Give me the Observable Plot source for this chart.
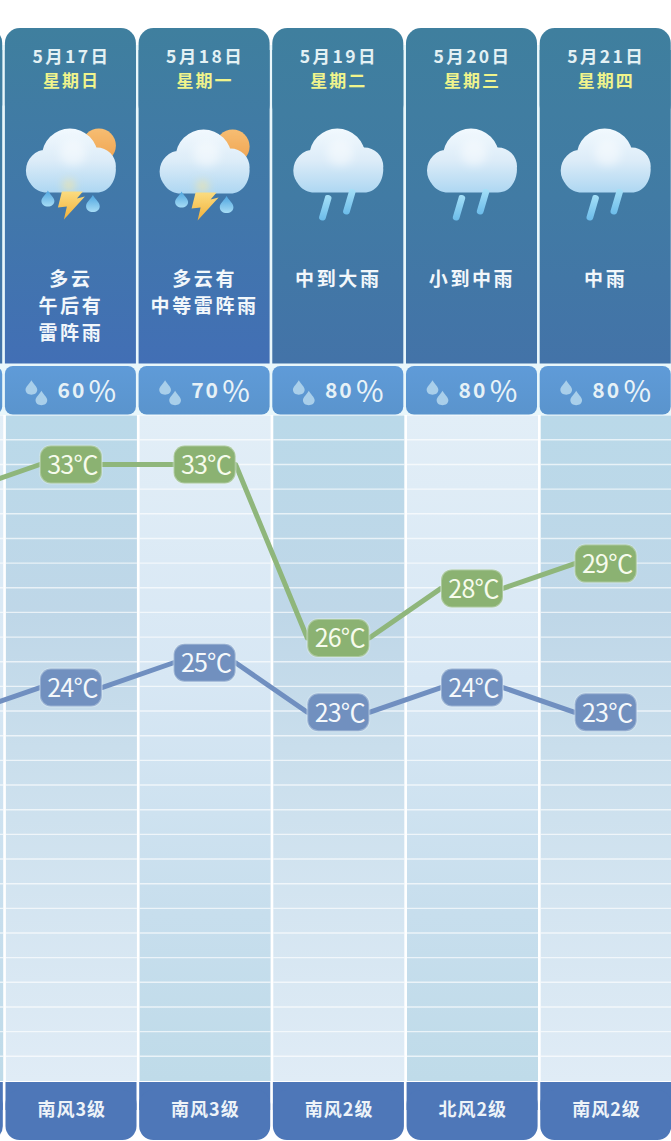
<!DOCTYPE html>
<html><head><meta charset="utf-8">
<style>html,body{margin:0;padding:0;background:#fff}svg{display:block}</style>
<script src="https://cdn.jsdelivr.net/npm/d3@7"></script>
<script src="https://cdn.jsdelivr.net/npm/@observablehq/plot@0.6"></script>
</head><body><div id="chart"></div>
<script>
const columns = [-1, 0, 1, 2, 3, 4];
const dates = ["5月16日", "5月17日", "5月18日", "5月19日", "5月20日", "5月21日"];
const weekdays = ["", "星期日", "星期一", "星期二", "星期三", "星期四"];
const conditions = ["", "多云\n午后有\n雷阵雨", "多云有\n中等雷阵雨", "中到大雨", "小到中雨", "中雨"];
const icons = ["", "storm", "storm", "rain", "rain", "rain"];
const rainChance = [null, 60, 70, 80, 80, 80];
const highs = [32, 33, 33, 26, 28, 29];
const lows = [23, 24, 25, 23, 24, 23];
const winds = ["", "南风3级", "南风3级", "南风2级", "北风2级", "南风2级"];

const days = columns.map((c, i) => ({
  c, date: dates[i], weekday: weekdays[i], condition: conditions[i], icon: icons[i],
  rain: rainChance[i], high: highs[i], low: lows[i], wind: winds[i],
  darkTop: (c + 2) % 2 === 0
}));
const shown = days.filter(d => d.c >= 0);

// layout helpers: the vertical scale is temperature, the horizontal one the day index
const degPx = 24.78;
const colPx = 133.7;
const Y = px => 33 - (px - 464) / degPx;
const PX = px => px / colPx;
const W = 0.49;
const HF = "'Noto Sans CJK SC','Noto Sans',sans-serif";

const attrs = o => ({render(index, scales, values, dims, ctx, next) {
  const g = next(index, scales, values, dims, ctx);
  if (g) for (const k in o) g.setAttribute(k, o[k]);
  return g;
}});

// custom dot symbols, drawn relative to the dot's centre
const sym = draw => ({draw});
const circle = (c, x, y, r) => { c.moveTo(x + r, y); c.arc(x, y, r, 0, 2 * Math.PI); c.closePath(); };
const cloudSym = sym(c => {
  circle(c, -1, -4, 28);
  circle(c, -24, 10, 21);
  circle(c, 26, 6, 19);
  c.moveTo(-24, 0); c.lineTo(26, 0); c.lineTo(45, 8);
  c.bezierCurveTo(45, 22, 37, 32, 26, 32);
  c.lineTo(-24, 32);
  c.bezierCurveTo(-36, 32, -44, 22, -44, 10);
  c.closePath();
});
const bolt = sym(c => {
  c.moveTo(-8, -14); c.lineTo(13, -14); c.lineTo(7, -7); c.lineTo(15, -9);
  c.lineTo(-6, 14); c.lineTo(-3, 1); c.lineTo(-12, 2); c.closePath();
});
const teardrop = s => sym(c => {
  c.moveTo(0, -8 * s);
  c.bezierCurveTo(2 * s, -4 * s, 6.5 * s, -1 * s, 6.5 * s, 2.5 * s);
  c.bezierCurveTo(6.5 * s, 6 * s, 3.5 * s, 8 * s, 0, 8 * s);
  c.bezierCurveTo(-3.5 * s, 8 * s, -6.5 * s, 6 * s, -6.5 * s, 2.5 * s);
  c.bezierCurveTo(-6.5 * s, -1 * s, -2 * s, -4 * s, 0, -8 * s);
  c.closePath();
});
const streak = sym(c => {
  c.moveTo(0, -12);
  c.bezierCurveTo(1, -14, 7, -13, 6.2, -9.5);
  c.lineTo(0.5, 10);
  c.bezierCurveTo(-0.5, 14, -7, 13, -6.2, 9);
  c.closePath();
});
const pill = sym(c => {
  const w = 31, h = 19, r = 11;
  c.moveTo(-w + r, -h); c.lineTo(w - r, -h); c.arcTo(w, -h, w, -h + r, r);
  c.lineTo(w, h - r); c.arcTo(w, h, w - r, h, r); c.lineTo(-w + r, h);
  c.arcTo(-w, h, -w, h - r, r); c.lineTo(-w, -h + r); c.arcTo(-w, -h, -w + r, -h, r);
  c.closePath();
});

const defs = () => {
  const s = d3.create("svg:g");
  const d = s.append("defs");
  const lin = (id, user, stops, y1, y2) => {
    const g = d.append("linearGradient").attr("id", id).attr("x1", 0).attr("x2", 0);
    if (user) g.attr("gradientUnits", "userSpaceOnUse").attr("y1", y1).attr("y2", y2);
    else g.attr("y1", 0).attr("y2", 1);
    stops.forEach(([o, col]) => g.append("stop").attr("offset", o).attr("stop-color", col));
  };
  lin("headStorm", true, [[0, "#3f7f9e"], [0.5, "#4178a9"], [1, "#426fb5"]], 28, 363);
  lin("headRain", true, [[0, "#3f7f9e"], [0.5, "#417ba4"], [1, "#4373a8"]], 28, 363);
  lin("hum", false, [[0, "#5f9bd8"], [1, "#5a94cd"]]);
  lin("panelDark", true, [[0, "#bad9e9"], [0.3, "#bfd7e8"], [0.5, "#c9deec"], [1, "#e0ecf6"]], 415, 1080);
  lin("panelLight", true, [[0, "#e2eef7"], [0.4, "#d7e7f4"], [0.75, "#c7deed"], [1, "#bfdbe9"]], 415, 1080);
  lin("cloud", false, [[0, "#f2f9fe"], [0.5, "#dcecf8"], [1, "#aed7f2"]]);
  lin("sun", false, [[0, "#f6bd72"], [1, "#f0a350"]]);
  lin("boltG", false, [[0, "#fbdc80"], [1, "#f2b13a"]]);
  lin("dropG", false, [[0, "#4fa6e0"], [1, "#a6dcf5"]]);
  lin("streakG", false, [[0, "#a5e0f7"], [1, "#6cbcea"]]);
  const f = d.append("filter").attr("id", "soft").attr("x", "-20%").attr("y", "-20%").attr("width", "140%").attr("height", "140%");
  f.append("feGaussianBlur").attr("stdDeviation", 0.7);
  const f2 = d.append("filter").attr("id", "soft2").attr("x", "-60%").attr("y", "-60%").attr("width", "220%").attr("height", "220%");
  f2.append("feGaussianBlur").attr("stdDeviation", 4);
  return s.node();
};

const colX1 = d => d.c - W, colX2 = d => d.c + W;
const hasIcon = k => d => d.icon === k;
const iconY = (d, px) => Y(px + (d.c === 1 ? 1 : 0));
const headFill = d => d.icon === "storm" ? "url(#headStorm)" : "url(#headRain)";

// the background stripes, one every 24.66 px
const stripes = days.flatMap(d => d3.range(0, 26).map(k => ({c: d.c, t: Y(439.3 + 24.66 * k)})));

// each line runs from the right edge of one label to the left edge of the next
const pillHalf = PX(31);
const vertices = key => days.flatMap(d => [{x: d.c - pillHalf, y: d[key]}, {x: d.c + pillHalf, y: d[key]}]).slice(0, -1);

const plot = Plot.plot({
  width: 671, height: 1141,
  marginTop: 0, marginRight: 0, marginBottom: 0, marginLeft: 0,
  style: {background: "#ffffff", fontFamily: HF},
  x: {domain: [PX(-70.4), PX(600.6)], range: [0, 671], axis: null},
  y: {domain: [Y(1141), Y(0)], range: [1141, 0], axis: null},
  marks: [
    defs,
    // pale gap colour between the columns
    Plot.rect([0], {x1: PX(-70.4), x2: PX(600.6), y1: Y(45), y2: Y(415), fill: "#e9f7fb"}),
    // column panels
    Plot.rect(days, {x1: d => d.c - W + PX(1), x2: d => d.c + W + PX(1), y1: Y(415.5), y2: Y(1081), fill: d => d.darkTop ? "url(#panelDark)" : "url(#panelLight)"}),
    Plot.ruleY(stripes, {y: "t", x1: d => d.c - W + PX(1), x2: d => d.c + W + PX(1), stroke: "#ffffff", strokeOpacity: 0.66, strokeWidth: 1.4}),
    // header cards, rounded on top only
    Plot.rect(days, {x1: colX1, x2: colX2, y1: Y(28), y2: Y(120), rx: 15, fill: headFill}),
    Plot.rect(days, {x1: colX1, x2: colX2, y1: Y(50), y2: Y(363.5), fill: headFill}),
    // rain chance cards
    Plot.rect(days, {x1: colX1, x2: colX2, y1: Y(366), y2: Y(414.5), rx: 8, fill: "url(#hum)"}),
    // wind cards, rounded at the bottom only
    Plot.rect(days, {x1: d => d.c - W + PX(0.6), x2: d => d.c + W + PX(0.6), y1: Y(1082), y2: Y(1110), fill: "#4e77b8"}),
    Plot.rect(days, {x1: d => d.c - W + PX(0.6), x2: d => d.c + W + PX(0.6), y1: Y(1090), y2: Y(1140), rx: 14, fill: "#4e77b8"}),
    // header text
    Plot.text(shown, {x: d => d.c + PX(0.5), y: Y(57), text: "date", fontSize: 17.5, fontWeight: 700, fill: "#e3f1f4", ...attrs({"letter-spacing": "2.4px"})}),
    Plot.text(shown, {x: d => d.c + PX(0.5), y: Y(81), text: "weekday", fontSize: 17, fontWeight: 700, fill: "#f0f48c", ...attrs({"letter-spacing": "2px"})}),
    Plot.text(shown, {x: "c", y: Y(266), lineAnchor: "top", lineHeight: 1.42, text: "condition", fontSize: 19, fontWeight: 700, fill: "#f2f7fb", ...attrs({"letter-spacing": "2.6px"})}),
    // storm icons
    Plot.dot(days.filter(hasIcon("storm")), {x: d => d.c + PX(28), y: d => iconY(d, 145), r: 17, fill: "url(#sun)", ...attrs({filter: "url(#soft)"})}),
    Plot.dot(days.filter(d => d.icon), {x: "c", y: d => iconY(d, 160), symbol: cloudSym, fill: "url(#cloud)", ...attrs({filter: "url(#soft)"})}),
    Plot.dot(days.filter(d => d.icon), {x: d => d.c + PX(2), y: d => iconY(d, 152), r: 13, fill: "#ffffff", fillOpacity: 0.45, ...attrs({filter: "url(#soft2)"})}),
    Plot.dot(days.filter(hasIcon("storm")), {x: d => d.c - PX(2), y: d => iconY(d, 185), r: 6, fill: "#f8e59c", fillOpacity: 0.7, ...attrs({filter: "url(#soft2)"})}),
    Plot.dot(days.filter(hasIcon("storm")), {x: d => d.c - PX(1), y: d => iconY(d, 205), symbol: bolt, fill: "url(#boltG)", ...attrs({filter: "url(#soft)"})}),
    Plot.dot(days.filter(hasIcon("storm")), {x: d => d.c - PX(23), y: d => iconY(d, 198), symbol: teardrop(1), fill: "url(#dropG)", ...attrs({filter: "url(#soft)"})}),
    Plot.dot(days.filter(hasIcon("storm")), {x: d => d.c + PX(22), y: d => iconY(d, 203), symbol: teardrop(1.05), fill: "url(#dropG)", ...attrs({filter: "url(#soft)"})}),
    // rain icons
    Plot.dot(days.filter(hasIcon("rain")), {x: d => d.c - PX(13), y: Y(207.5), symbol: streak, fill: "url(#streakG)", ...attrs({filter: "url(#soft)"})}),
    Plot.dot(days.filter(hasIcon("rain")), {x: d => d.c + PX(11), y: Y(201.5), symbol: streak, fill: "url(#streakG)", ...attrs({filter: "url(#soft)"})}),
    // rain chance
    Plot.dot(shown, {x: d => d.c - PX(39.5), y: Y(387), symbol: teardrop(0.9), fill: "#a9cfea", ...attrs({filter: "url(#soft)"})}),
    Plot.dot(shown, {x: d => d.c - PX(29.5), y: Y(397.5), symbol: teardrop(0.9), fill: "#a9cfea", ...attrs({filter: "url(#soft)"})}),
    Plot.text(shown, {x: d => d.c + PX(1), y: Y(391), text: d => String(d.rain), fontSize: 21, fontWeight: 700, fill: "#e6f1f6", ...attrs({"letter-spacing": "2px"})}),
    Plot.text(shown, {x: d => d.c + PX(31.5), y: Y(392), text: () => "%", fontSize: 30, fontWeight: 400, fill: "#e9f3f8"}),
    // temperature lines
    Plot.line(vertices("high"), {x: "x", y: "y", stroke: "#8fb67b", strokeWidth: 5}),
    Plot.line(vertices("low"), {x: "x", y: "y", stroke: "#708fc0", strokeWidth: 5}),
    Plot.dot(shown, {x: "c", y: "high", symbol: pill, fill: "#8bb272", stroke: "#e8f3ee", strokeOpacity: 0.35, strokeWidth: 2}),
    Plot.dot(shown, {x: "c", y: "low", symbol: pill, fill: "#7190bf", stroke: "#e8f3f8", strokeOpacity: 0.35, strokeWidth: 2}),
    Plot.text(shown, {x: d => d.c + PX(1.5), y: d => d.high - 0.06, text: d => d.high + "℃", fontSize: 25, fontWeight: 400, fill: "#f6fbec", ...attrs({"letter-spacing": "-0.8px"})}),
    Plot.text(shown, {x: d => d.c + PX(1.5), y: d => d.low - 0.06, text: d => d.low + "℃", fontSize: 25, fontWeight: 400, fill: "#f4f8fb", ...attrs({"letter-spacing": "-0.8px"})}),
    // wind
    Plot.text(shown, {x: d => d.c + PX(0.8), y: Y(1110), text: "wind", fontSize: 18, fontWeight: 700, fill: "#edf3f8", ...attrs({"letter-spacing": "1px"})})
  ]
});
document.getElementById("chart").append(plot);
</script></body></html>
